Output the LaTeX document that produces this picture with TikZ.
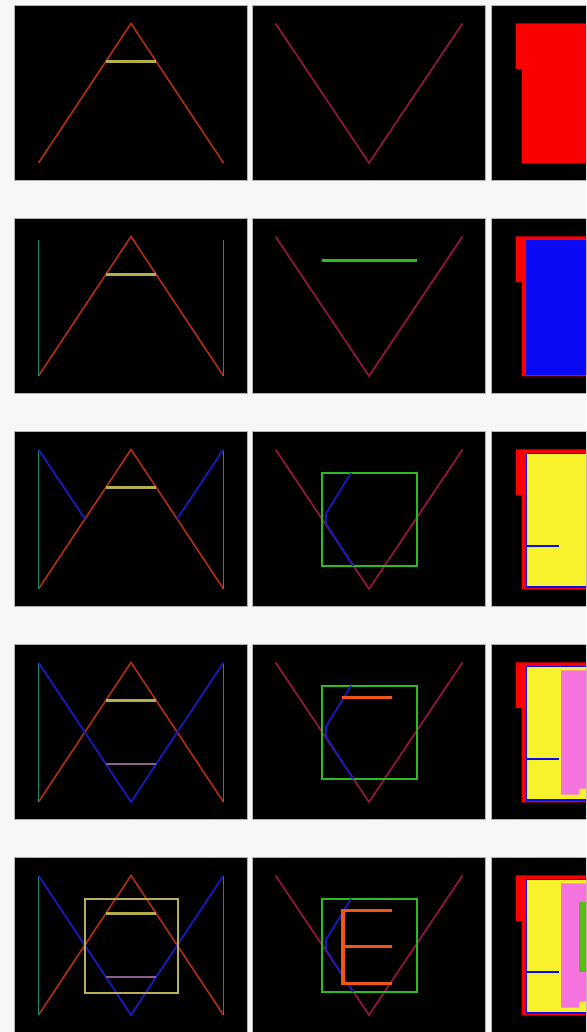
\documentclass[tikz,border=0pt]{standalone}
\usetikzlibrary{positioning}
\definecolor{paper}{RGB}{247,247,247}
\definecolor{redA}{RGB}{180,45,20}
\definecolor{crossY}{RGB}{180,175,72}
\definecolor{crimsonV}{RGB}{150,20,70}
\definecolor{tealP}{RGB}{30,140,110}
\definecolor{blueW}{RGB}{25,25,190}
\definecolor{mauveB}{RGB}{140,95,140}
\definecolor{sqY}{RGB}{185,175,90}
\definecolor{greenS}{RGB}{40,190,30}
\definecolor{orangeE}{RGB}{240,85,25}
\definecolor{fillR}{RGB}{250,0,0}
\definecolor{fillB}{RGB}{10,10,245}
\definecolor{fillY}{RGB}{248,242,45}
\definecolor{fillP}{RGB}{245,115,220}
\definecolor{fillG}{RGB}{85,190,20}

\begin{document}
\begin{tikzpicture}[
  x=1pt, y=-1pt,
  panel/.style={rectangle, anchor=north west, inner sep=0pt, fill=black, draw=gray!60, line width=0.6pt, minimum width=233pt, minimum height=175pt},
  aframe/.style={draw=redA, line width=1.6pt},
  vframe/.style={draw=crimsonV, line width=1.7pt},
  post/.style={draw=tealP, line width=1.8pt},
  wing/.style={draw=blueW, line width=1.8pt},
  bar/.style={line width=2.2pt},
  boxline/.style={line width=2pt},
]
\useasboundingbox[fill=paper] (0,0) rectangle (586,1032);
\clip (0,0) rectangle (586,1032);

% panels
\foreach \r/\y in {1/5, 2/218, 3/431, 4/644, 5/857}
  \foreach \c/\x in {1/14, 2/252, 3/491}
    \node[panel] (p\r\c) at (\x,\y) {};

% first column
\foreach \r in {1,...,5} {
  \begin{scope}[shift={(p\r1.north west)}]
    \draw[aframe] (24.5,158) -- (117,18.5) -- (209.5,158);
    \draw[bar, draw=crossY] (92,56.5) -- (142,56.5);
  \end{scope}
}
\begin{scope}[shift={(p21.north west)}]
  \draw[post] (24.5,22) -- (24.5,158) (209.5,22) -- (209.5,158);
\end{scope}
\begin{scope}[shift={(p31.north west)}]
  \draw[post] (24.5,18.5) -- (24.5,158) (209.5,18.5) -- (209.5,158);
  \draw[wing] (24.5,18.5) -- (71,88) (209.5,18.5) -- (163,88);
\end{scope}
\foreach \r in {4,5} {
  \begin{scope}[shift={(p\r1.north west)}]
    \draw[post] (24.5,18.5) -- (24.5,158) (209.5,18.5) -- (209.5,158);
    \draw[wing] (24.5,18.5) -- (117,158) -- (209.5,18.5);
    \draw[bar, draw=mauveB] (92,120.3) -- (142,120.3);
  \end{scope}
}
\begin{scope}[shift={(p51.north west)}]
  \draw[boxline, draw=sqY] (70.8,42.3) rectangle (164,135.7);
\end{scope}

% second column
\foreach \r in {1,...,5} {
  \begin{scope}[shift={(p\r2.north west)}]
    \draw[vframe] (23.5,18.5) -- (117,158) -- (210.5,18.5);
  \end{scope}
}
\begin{scope}[shift={(p22.north west)}]
  \draw[line width=2.8pt, draw=greenS] (70,42.7) -- (164.7,42.7);
\end{scope}
\foreach \r in {3,4,5} {
  \begin{scope}[shift={(p\r2.north west)}]
    \draw[boxline, draw=greenS] (70,42) rectangle (164.5,135);
    \draw[wing] (99,42) -- (74,82.5) -- (74,92.5) -- (101,135);
  \end{scope}
}
\begin{scope}[shift={(p42.north west)}]
  \draw[line width=3.2pt, draw=orangeE] (90.3,53.7) -- (140.4,53.7);
\end{scope}
\begin{scope}[shift={(p52.north west)}]
  \draw[line width=3.2pt, draw=orangeE] (140.4,53.3) -- (91,53.3) -- (91,126.3) -- (140.4,126.3)
    (91,89.5) -- (140.4,89.5);
\end{scope}

% third column
\foreach \r in {1,...,5} {
  \begin{scope}[shift={(p\r3.north west)}]
    \fill[fillR] (24.7,18.3) -- (233,18.3) -- (233,158.3) -- (30.5,158.3) -- (30.5,64) -- (24.7,64) -- cycle;
  \end{scope}
}
\foreach \r in {2,...,5} {
  \begin{scope}[shift={(p\r3.north west)}]
    \fill[fillB] (34.7,21.7) rectangle (233,157);
  \end{scope}
}
\foreach \r in {3,4,5} {
  \begin{scope}[shift={(p\r3.north west)}]
    \fill[fillY] (36.3,23.3) rectangle (233,155.4);
    \draw[line width=2.4pt, draw=fillB] (35,114.7) -- (68,114.7);
  \end{scope}
}
\foreach \r in {4,5} {
  \begin{scope}[shift={(p\r3.north west)}]
    \fill[fillP] (70,26.3) -- (233,26.3) -- (233,144.7) -- (88.3,144.7) -- (88.3,150.7) -- (70,150.7) -- cycle;
  \end{scope}
}
\begin{scope}[shift={(p53.north west)}]
  \fill[fillG] (87.7,44.7) rectangle (233,115.3);
\end{scope}
\end{tikzpicture}
\end{document}
